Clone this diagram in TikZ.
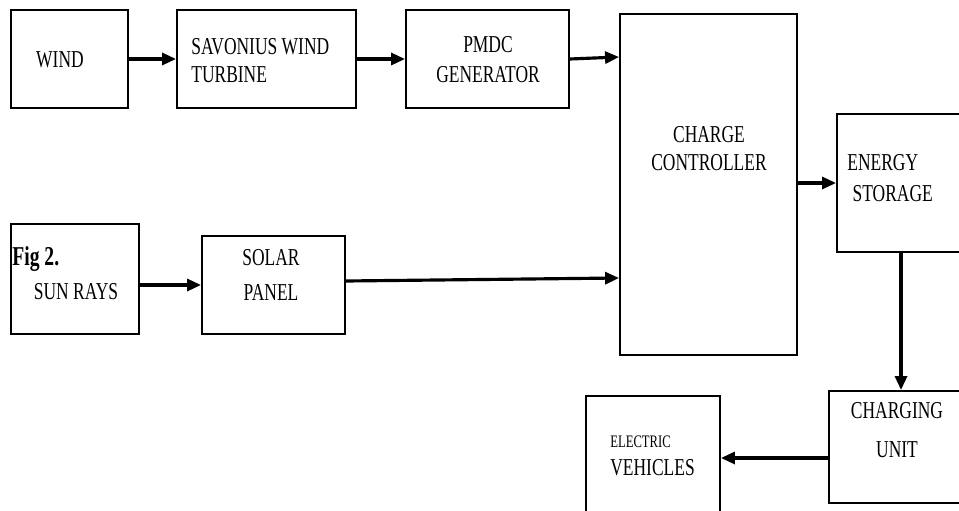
\documentclass[tikz,border=0pt]{standalone}
\usepackage{fontspec}
\setmainfont{Liberation Serif}[FakeStretch=0.72]
\usepackage{tikz}
\usetikzlibrary{positioning, arrows.meta}

\begin{document}
\begin{tikzpicture}[
    x=0.02cm, y=-0.02cm,
    blk/.style={draw, line width=1.1pt, inner sep=0pt},
    txt/.style={font=\fontsize{13.8}{16}\selectfont, inner sep=0pt, align=center},
    arr/.style={-{Triangle[length=0.28cm, width=0.24cm]}, line width=1.8pt},
  ]

  \useasboundingbox (0,0) rectangle (959,510);

  % blocks
  \node[blk, minimum width=2.34cm, minimum height=1.96cm] (wind)  at (69.5,59)  {};
  \node[blk, minimum width=3.58cm, minimum height=1.96cm] (sav)   at (266.5,59) {};
  \node[blk, minimum width=3.26cm, minimum height=1.96cm] (pmdc)  at (487.5,59) {};
  \node[blk, minimum width=3.54cm, minimum height=6.82cm] (cc)    at (708.5,184.5) {};
  \node[blk, minimum width=2.56cm, minimum height=2.76cm] (es)    at (901,183)  {};
  \node[blk, minimum width=2.56cm, minimum height=2.20cm] (sun)   at (75,279)   {};
  \node[blk, minimum width=2.86cm, minimum height=1.96cm] (solar) at (273.5,285) {};
  \node[blk, minimum width=2.72cm, minimum height=2.24cm] (cu)    at (897,447)  {};
  \node[blk, minimum width=2.68cm, minimum height=2.40cm] (ev)    at (653,456)  {};

  % texts
  \node[txt] (wind-t) at (60,60) {WIND};
  \node[txt, anchor=west, align=left] (sav-t) at (191,61) {SAVONIUS WIND\\TURBINE};
  \node[txt] (pmdc-t) at (488,60) {PMDC\\[1pt]GENERATOR};
  \node[txt] (cc-t) at (709,149) {CHARGE\\CONTROLLER};
  \node[txt, anchor=west, align=left] (es-t) at (847,178) {ENERGY\\[2pt]\hspace*{3pt}STORAGE};
  \node[txt, anchor=west, font=\fontsize{15.5}{18}\selectfont\bfseries] (fig-t) at (12,259) {Fig 2.};
  \node[txt] (sun-t) at (76,292) {SUN RAYS};
  \node[txt] (solar-t) at (271,275) {SOLAR\\[4pt]PANEL};
  \node[txt] (cu-t) at (897,430) {CHARGING\\[6pt]UNIT};
  \node[txt, anchor=west, align=left] (ev-t) at (610,456)
    {{\fontsize{10}{12}\selectfont ELECTRIC}\\VEHICLES};

  % wind path
  \draw[arr] (wind.east) -- (sav.west);
  \draw[arr] (sav.east) -- (pmdc.west);
  \draw[arr] (pmdc.east) -- ([yshift=0.04cm]pmdc.east -| cc.west);

  % solar path
  \draw[arr] (sun.east |- solar.west) -- (solar.west);
  \draw[arr] ([yshift=0.08cm]solar.east) -- ([yshift=0.14cm]solar.east -| cc.west);

  % storage and charging
  \draw[arr] (cc.east |- es.west) -- (es.west);
  \draw[arr] (es.south) -- (es.south |- cu.north);
  \draw[arr] ([yshift=-0.22cm]cu.west) -- ([yshift=-0.22cm]cu.west -| ev.east);

\end{tikzpicture}
\end{document}
